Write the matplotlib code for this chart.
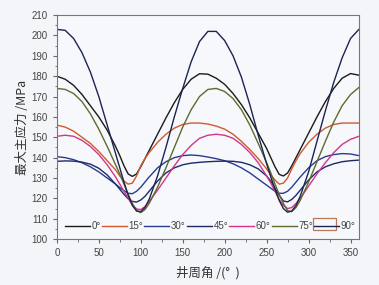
import matplotlib
matplotlib.use('Agg')
import matplotlib.pyplot as plt
from matplotlib.patches import Rectangle
from matplotlib.ticker import MultipleLocator

plt.rcParams['font.family'] = ['Liberation Sans', 'Noto Sans CJK SC', 'DejaVu Sans']

# well circumference angle (deg)
theta = [0, 10, 20, 30, 40, 50, 60, 70, 75, 80, 85, 90, 95, 100, 105, 110,
         120, 130, 140, 150, 160, 170, 180, 190, 200, 210, 220, 230, 240, 250,
         255, 260, 265, 270, 275, 280, 285, 290, 300, 310, 320, 330, 340, 350, 360]

s0 = [180, 178.5, 175.5, 171, 165.5, 160, 153.5, 145.5, 141, 136, 132, 130.8, 132, 135.5, 139.5, 143.5,
      151.5, 159.5, 167, 173.5, 178.5, 181.2, 181, 179, 176, 171.5, 166, 159.5, 152, 144.5,
      140, 135.5, 131.8, 131, 132.5, 136, 140, 144, 152, 160, 167.5, 174, 179, 181.3, 180.5]
s15 = [156, 155, 153, 150, 147, 143, 138.5, 134, 131, 128.5, 127, 127.5, 131, 136, 139.5, 142.5,
       147.5, 151.5, 154.5, 156.3, 157, 157, 156.5, 155.5, 154, 151.5, 148, 144, 139.5, 134.5,
       131.5, 129, 127, 127.5, 130, 134.5, 138.5, 142, 147.5, 151.5, 154.5, 156.3, 157, 157, 157]
s30 = [140.5, 140, 139, 137.5, 135.5, 133, 130, 127, 125.3, 123.8, 122.5, 122.3, 123.5, 125.5, 128, 130.5,
       135, 138, 140, 141, 141.3, 141, 140.3, 139.5, 138.5, 137, 135, 132.5, 129.5, 126.5,
       125, 123.5, 122.5, 122.5, 123.5, 125.5, 128, 130.5, 135, 138.5, 140.5, 141.5, 142, 141.8, 141]
s45 = [138.2, 138.4, 138.3, 137.8, 136.8, 134.8, 131.5, 127, 124.5, 122, 119.8, 118.5, 118.2, 119.2, 121, 123.5,
       128.5, 132.5, 135, 136.5, 137.3, 137.7, 138, 138.2, 138.3, 138.2, 137.7, 136.5, 134.5, 131,
       128.5, 125, 121.5, 118.7, 118.3, 119.5, 121.5, 124, 129, 133, 135.5, 137, 138, 138.5, 138.8]
s60 = [150.5, 151, 150.5, 148.5, 145.5, 141.5, 136.5, 130.5, 127, 123.5, 120, 116.8, 114.8, 114.5, 116, 118.5,
       124, 130, 136, 141.5, 146, 149.5, 151, 151.5, 151, 149.5, 146.5, 142.5, 137.5, 131,
       127.5, 123.5, 119.5, 116.5, 115, 115.5, 117.5, 120, 126, 132, 137.5, 142.5, 146.5, 149, 150.5]
s75 = [174, 173.5, 171.5, 167.5, 161.5, 154, 145.5, 136.5, 132, 127, 122, 117.5, 114, 113, 114.5, 117.5,
       125.5, 135, 145, 155, 163.5, 170, 173.5, 174, 172.5, 169, 163.5, 156, 147, 137.5,
       132.5, 127, 122, 117.5, 114, 113.5, 115.5, 119, 128, 138, 148, 157.5, 165.5, 171, 174.5]
s90 = [203, 202.5, 198.5, 191.5, 182, 170, 156, 142, 135, 128, 121.5, 116.5, 113.8, 113.5, 115.5, 119.5,
       131, 145, 160, 174, 187, 197, 202, 202, 197.5, 190, 179.5, 166, 151, 137,
       130.5, 124.5, 119, 115, 113.2, 113.8, 116.5, 121, 133, 148, 163, 177, 189, 198.5, 203]

labels = ['0°', '15°', '30°', '45°', '60°', '75°', '90°']
colors = ['#1a1a1a', '#cf5a2e', '#2b3a8e', '#1e2a66', '#d2358a', '#5f6b2c', '#1b2452']

fig = plt.figure(figsize=(3.79, 2.85), dpi=100, facecolor='#f3f5f9')
ax = fig.add_axes([0.150, 0.161, 0.797, 0.786], facecolor='#f6f8fb')

for y, lab, c in zip([s0, s15, s30, s45, s60, s75, s90], labels, colors):
    ax.plot(theta, y, color=c, lw=1.0, label=lab)

ax.set_xlim(0, 360)
ax.set_ylim(100, 210)
ax.xaxis.set_major_locator(MultipleLocator(50))
ax.xaxis.set_minor_locator(MultipleLocator(25))
ax.yaxis.set_major_locator(MultipleLocator(10))
ax.yaxis.set_minor_locator(MultipleLocator(5))
ax.tick_params(which='both', direction='out', colors='#666666', labelcolor='#444444',
               labelsize=7, top=False, right=False)
ax.tick_params(which='major', length=3, width=0.8)
ax.tick_params(which='minor', length=1.8, width=0.6)
for sp in ax.spines.values():
    sp.set_color('#777777')
    sp.set_linewidth(0.8)

ax.set_ylabel('最大主应力 /MPa', family=['Noto Sans CJK SC'], fontsize=9, color='#333333', labelpad=2)
ax.set_xlabel('井周角 /(°  )', family=['Noto Sans CJK SC'], fontsize=9, color='#333333', labelpad=6)

leg = ax.legend(loc='lower left', bbox_to_anchor=(0.0, 0.0), ncol=7, frameon=False,
                fontsize=7, handlelength=2.6, handletextpad=0.15, columnspacing=0.1,
                borderaxespad=0.4, labelcolor='#444444')

# selection box drawn around the last legend key in the source image
ax.add_patch(Rectangle((0.848, 0.04), 0.077, 0.055, transform=ax.transAxes,
                       fill=False, edgecolor='#b87a55', lw=0.9))

fig.savefig('out.png', dpi=100, facecolor=fig.get_facecolor())
